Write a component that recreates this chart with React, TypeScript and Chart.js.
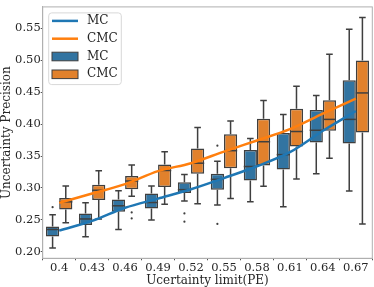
import React, { useEffect, useRef } from 'react';
import { Chart, registerables } from 'chart.js';

Chart.register(...registerables);

// ---- data ----
const categories = ['0.4', '0.43', '0.46', '0.49', '0.52', '0.55', '0.58', '0.61', '0.64', '0.67'];
const yTicks = [0.2, 0.25, 0.3, 0.35, 0.4, 0.45, 0.5, 0.55];

const mcMin = [0.206, 0.2236, 0.2349, 0.2499, 0.2798, 0.2732, 0.2783, 0.2705, 0.3222, 0.2953];
const mcQ1 = [0.224, 0.2422, 0.2628, 0.2679, 0.2922, 0.2974, 0.3119, 0.329, 0.3713, 0.3698];
const mcMedian = [0.235, 0.2515, 0.2721, 0.2772, 0.2974, 0.3135, 0.3336, 0.3522, 0.3904, 0.4074];
const mcQ3 = [0.2395, 0.26, 0.2819, 0.2912, 0.3088, 0.3222, 0.3594, 0.3862, 0.422, 0.4685];
const mcMax = [0.258, 0.2767, 0.2958, 0.3031, 0.3212, 0.3419, 0.3775, 0.4152, 0.4447, 0.5485];
const mcOutliers = [[0.270], [], [], [], [0.2602, 0.2473], [0.2437, 0.3662], [], [], [], []];

const cmcMin = [0.2457, 0.2515, 0.2871, 0.2747, 0.2752, 0.2834, 0.3026, 0.314, 0.3465, 0.2437];
const cmcQ1 = [0.2664, 0.281, 0.298, 0.3016, 0.3222, 0.331, 0.3352, 0.3651, 0.3895, 0.3868];
const cmcMedian = [0.2783, 0.2964, 0.3109, 0.3274, 0.3388, 0.3584, 0.3724, 0.3884, 0.4074, 0.4488];
const cmcQ3 = [0.2845, 0.305, 0.3186, 0.3367, 0.362, 0.3842, 0.4085, 0.424, 0.4375, 0.4995];
const cmcMax = [0.303, 0.3268, 0.3361, 0.3569, 0.3946, 0.405, 0.4369, 0.4592, 0.5093, 0.5671];
const cmcOutliers = [[], [], [0.2617, 0.2524], [], [], [], [], [], [], []];

const mcLine = [0.2333, 0.2484, 0.269, 0.2834, 0.298, 0.3155, 0.334, 0.356, 0.3895, 0.4205];
const cmcLine = [0.2767, 0.2914, 0.306, 0.3264, 0.3388, 0.357, 0.3744, 0.392, 0.4163, 0.44];

const FONT = '"DejaVu Serif", serif';
const FS = 11.5;
const EDGE = '#3f3f3f';
const BLUE_LINE = '#1f77b4';
const ORANGE_LINE = '#ff7f0e';
const BLUE_BOX = '#3274a1';
const ORANGE_BOX = '#e1812c';

const stats: Record<number, { min: number[]; med: number[]; max: number[]; q1: number[]; q3: number[]; out: number[][] }> = {
  2: { min: mcMin, med: mcMedian, max: mcMax, q1: mcQ1, q3: mcQ3, out: mcOutliers },
  3: { min: cmcMin, med: cmcMedian, max: cmcMax, q1: cmcQ1, q3: cmcQ3, out: cmcOutliers },
};

export default function App() {
  const ref = useRef<HTMLCanvasElement>(null);

  useEffect(() => {
    if (!ref.current) return;

    const boxPlugin = {
      id: 'boxParts',
      beforeDatasetsDraw(chart: any) {
        const ctx = chart.ctx;
        const y = chart.scales.y;
        ctx.save();
        ctx.strokeStyle = EDGE;
        ctx.fillStyle = EDGE;
        ctx.lineWidth = 1.5;
        [2, 3].forEach((di) => {
          const s = stats[di];
          const meta = chart.getDatasetMeta(di);
          meta.data.forEach((el: any, j: number) => {
            const x = el.x;
            const cap = el.width / 4;
            ctx.beginPath();
            ctx.moveTo(x, y.getPixelForValue(s.q3[j]));
            ctx.lineTo(x, y.getPixelForValue(s.max[j]));
            ctx.moveTo(x - cap, y.getPixelForValue(s.max[j]));
            ctx.lineTo(x + cap, y.getPixelForValue(s.max[j]));
            ctx.moveTo(x, y.getPixelForValue(s.q1[j]));
            ctx.lineTo(x, y.getPixelForValue(s.min[j]));
            ctx.moveTo(x - cap, y.getPixelForValue(s.min[j]));
            ctx.lineTo(x + cap, y.getPixelForValue(s.min[j]));
            ctx.stroke();
            s.out[j].forEach((v) => {
              ctx.beginPath();
              ctx.arc(x, y.getPixelForValue(v), 1.1, 0, Math.PI * 2);
              ctx.fill();
            });
          });
        });
        ctx.restore();
      },
      afterDatasetDraw(chart: any, args: any) {
        const di = args.index;
        if (!stats[di]) return;
        const s = stats[di];
        const ctx = chart.ctx;
        const y = chart.scales.y;
        ctx.save();
        ctx.strokeStyle = EDGE;
        ctx.lineWidth = 1.5;
        chart.getDatasetMeta(di).data.forEach((el: any, j: number) => {
          const py = y.getPixelForValue(s.med[j]);
          ctx.beginPath();
          ctx.moveTo(el.x - el.width / 2, py);
          ctx.lineTo(el.x + el.width / 2, py);
          ctx.stroke();
        });
        ctx.restore();
      },
      afterDraw(chart: any) {
        const ctx = chart.ctx;
        const a = chart.chartArea;
        ctx.save();
        // frame
        ctx.strokeStyle = '#b0b0b0';
        ctx.lineWidth = 1;
        ctx.strokeRect(a.left, a.top, a.right - a.left, a.bottom - a.top);
        // legend
        const lx = a.left + 6;
        const ly = a.top + 6;
        ctx.beginPath();
        ctx.roundRect(lx, ly, 72.6, 71.7, 3);
        ctx.fillStyle = 'rgba(255,255,255,0.8)';
        ctx.fill();
        ctx.strokeStyle = '#d8d8d8';
        ctx.stroke();
        const items = [
          { t: 'MC', kind: 'line', c: BLUE_LINE },
          { t: 'CMC', kind: 'line', c: ORANGE_LINE },
          { t: 'MC', kind: 'box', c: BLUE_BOX },
          { t: 'CMC', kind: 'box', c: ORANGE_BOX },
        ];
        items.forEach((it, i) => {
          const cy = a.top + 14 + i * 17.8;
          const hx0 = a.left + 9.3;
          const hx1 = a.left + 35.3;
          if (it.kind === 'line') {
            ctx.strokeStyle = it.c;
            ctx.lineWidth = 2.5;
            ctx.beginPath();
            ctx.moveTo(hx0, cy);
            ctx.lineTo(hx1, cy);
            ctx.stroke();
          } else {
            ctx.fillStyle = it.c;
            ctx.fillRect(hx0, cy - 4.3, hx1 - hx0, 8.6);
            ctx.strokeStyle = EDGE;
            ctx.lineWidth = 1;
            ctx.strokeRect(hx0, cy - 4.3, hx1 - hx0, 8.6);
          }
          ctx.fillStyle = '#262626';
          ctx.font = `12px ${FONT}`;
          ctx.textBaseline = 'middle';
          ctx.textAlign = 'left';
          ctx.fillText(it.t, a.left + 44.3, cy);
        });
        ctx.restore();
      },
    };

    const chart = new Chart(ref.current, {
      type: 'bar',
      data: {
        labels: categories,
        datasets: [
          {
            type: 'line',
            label: 'MC',
            data: mcLine,
            borderColor: BLUE_LINE,
            borderWidth: 2.5,
            pointRadius: 0,
            cubicInterpolationMode: 'monotone',
            order: 0,
          } as any,
          {
            type: 'line',
            label: 'CMC',
            data: cmcLine,
            borderColor: ORANGE_LINE,
            borderWidth: 2.5,
            pointRadius: 0,
            cubicInterpolationMode: 'monotone',
            order: 0,
          } as any,
          {
            type: 'bar',
            label: 'MC',
            data: categories.map((_, i) => [mcQ1[i], mcQ3[i]]),
            backgroundColor: BLUE_BOX,
            borderColor: EDGE,
            borderWidth: 1.5,
            borderSkipped: false,
            categoryPercentage: 0.8,
            barPercentage: 1,
            order: 1,
          } as any,
          {
            type: 'bar',
            label: 'CMC',
            data: categories.map((_, i) => [cmcQ1[i], cmcQ3[i]]),
            backgroundColor: ORANGE_BOX,
            borderColor: EDGE,
            borderWidth: 1.5,
            borderSkipped: false,
            categoryPercentage: 0.8,
            barPercentage: 1,
            order: 1,
          } as any,
        ],
      },
      options: {
        animation: false,
        responsive: true,
        maintainAspectRatio: false,
        layout: { padding: { top: 2.3, right: 1.7, left: 0, bottom: 0 } },
        plugins: { legend: { display: false }, tooltip: { enabled: false } },
        scales: {
          x: {
            offset: true,
            grid: { display: true, drawOnChartArea: false, drawTicks: true, tickLength: 2, color: '#555' },
            border: { display: true, color: '#b0b0b0' },
            ticks: { font: { family: FONT, size: FS, lineHeight: 1 }, color: '#262626', padding: 2, maxRotation: 0, autoSkip: false },
            title: { display: true, text: 'Ucertainty limit(PE)', font: { family: FONT, size: 12, lineHeight: 1 }, color: '#262626', padding: { top: 0, bottom: 0 } },
            afterFit: (s: any) => { s.height = 28.7; },
          },
          y: {
            min: 0.1899,
            max: 0.5835,
            grid: { display: true, drawOnChartArea: false, drawTicks: true, tickLength: 2, color: '#555' },
            border: { display: true, color: '#b0b0b0' },
            ticks: { font: { family: FONT, size: FS }, color: '#262626', padding: 0, callback: (v: any) => Number(v).toFixed(2) },
            afterBuildTicks: (s: any) => { s.ticks = yTicks.map((v) => ({ value: v })); },
            title: { display: true, text: 'Uncertainty Precision', font: { family: FONT, size: 12 }, color: '#262626', padding: { top: 0, bottom: 0 } },
            afterFit: (s: any) => { s.width = 42.7; },
          },
        },
      },
      plugins: [boxPlugin],
    } as any);

    return () => chart.destroy();
  }, []);

  return (
    <div style={{ position: 'fixed', left: 0, top: 0, width: 374, height: 287, background: '#fff' }}>
      <canvas ref={ref} />
    </div>
  );
}
